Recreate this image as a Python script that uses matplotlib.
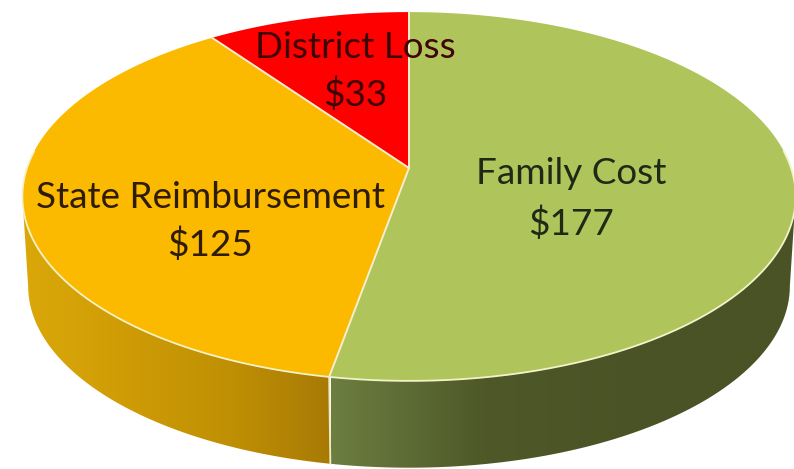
import numpy as np
import matplotlib
matplotlib.use("Agg")
import matplotlib.pyplot as plt
from matplotlib.patches import Polygon
from matplotlib.colors import LinearSegmentedColormap

categories = ["Family Cost", "State Reimbursement", "District Loss"]
values = [177, 125, 33]
value_labels = ["$177", "$125", "$33"]
top_colors = ["#AFC45A", "#FBB900", "#FE0000"]

plt.rcParams['font.family'] = ['Lato', 'DejaVu Sans']
fig = plt.figure(figsize=(7.94, 4.69), dpi=100)
ax = fig.add_axes([0, 0, 1, 1])
ax.set_xlim(0, 794); ax.set_ylim(469, 0); ax.axis('off')

AX, AY, A, B, K = 409, 168, 382, 180, 0.1545


def project(theta, dy=0.0, scale=1.0):
    x, y = np.sin(theta), np.cos(theta)
    d = 1 + K * y
    return AX + scale * A * x / d, AY - scale * B * y / d + dy


edges = np.radians(np.concatenate([[0], np.cumsum(values)]) / sum(values) * 360)
DEPTH, SCALE = 90, 0.985


def side(t0, t1, cmap_colors, x0, x1):
    ts = np.linspace(t0, t1, 200)
    xa, ya = project(ts)
    xb, yb = project(ts, DEPTH, SCALE)
    pts = np.column_stack([np.r_[xa, xb[::-1]], np.r_[ya, yb[::-1]]])
    cm = LinearSegmentedColormap.from_list("c", cmap_colors)
    im = ax.imshow(np.linspace(0, 1, 256)[None, :], cmap=cm, extent=(x0, x1, 469, 0),
                   aspect='auto', zorder=1)
    im.set_clip_path(Polygon(pts, closed=True, transform=ax.transData))


t_start = np.radians(98.9)     # right tangent of the rim
t_end = np.radians(261.1)      # left tangent of the rim
b = edges[1]
side(t_start, b, ["#4A5325", "#4A5325", "#4E5828", "#6C7E40"], 794, 331)
side(b, t_end, ["#A87A04", "#C09004", "#CF9C06", "#DBA80A"], 331, 22)

# top face
for i, c in enumerate(top_colors):
    ts = np.linspace(edges[i], edges[i + 1], 200)
    x, y = project(ts)
    ax.add_patch(Polygon(np.column_stack([np.r_[AX, x], np.r_[AY, y]]), closed=True,
                         facecolor=c, edgecolor='none', zorder=2))
# light edges
ts = np.linspace(t_start - 0.25, t_end + 0.25, 400)
x, y = project(ts)
ax.plot(x, y, color="#F3F2C8", lw=1.3, zorder=3)
for e in edges[:3]:
    x, y = project(np.array([e]))
    ax.plot([AX, x[0]], [AY, y[0]], color="#F6EFCF", lw=1.4, zorder=3)
x, y = project(np.array([b]))
xb, yb = project(np.array([b]), DEPTH, SCALE)
ax.plot([x[0], xb[0]], [y[0], yb[0]], color="#EDEBC8", lw=1.3, zorder=3)

# labels
label_pos = [(571, 173, 224), (210, 198, 245), (355, 47, 95)]
colors = ["#1E2A16", "#2E1C06", "#3E0505"]
for cat, val, (lx, y1, y2), col in zip(categories, value_labels, label_pos, colors):
    ax.text(lx, y1, cat, ha='center', va='center', fontsize=26.6, color=col, zorder=4)
    ax.text(lx, y2, val, ha='center', va='center', fontsize=26.6, color=col, zorder=4)

fig.savefig("out.png", dpi=100)
